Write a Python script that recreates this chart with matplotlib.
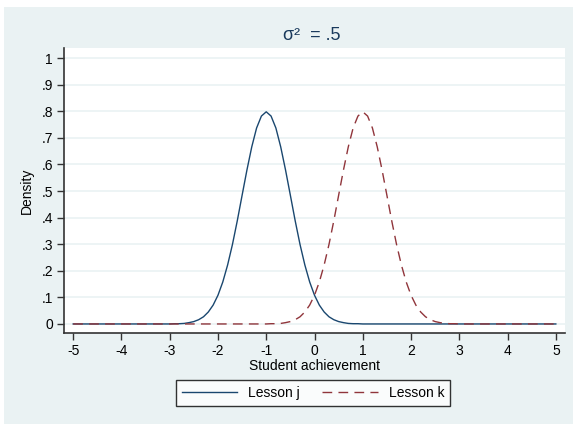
import matplotlib
matplotlib.use("Agg")
import matplotlib.pyplot as plt
from matplotlib.patches import Rectangle

# densities
x_j = [-5.0, -3.0, -2.9, -2.8, -2.7, -2.6, -2.5, -2.4, -2.3, -2.2, -2.1,
       -2.0, -1.9, -1.8, -1.7, -1.6, -1.5, -1.4, -1.3, -1.2, -1.1, -1.0,
       -0.9, -0.8, -0.7, -0.6, -0.5, -0.4, -0.3, -0.2, -0.1, 0.0,
       0.1, 0.2, 0.3, 0.4, 0.5, 0.6, 0.7, 0.8, 0.9, 1.0, 5.0]
x_k = [-5.0, -1.0, -0.9, -0.8, -0.7, -0.6, -0.5, -0.4, -0.3, -0.2, -0.1,
       0.0, 0.1, 0.2, 0.3, 0.4, 0.5, 0.6, 0.7, 0.8, 0.9, 1.0,
       1.1, 1.2, 1.3, 1.4, 1.5, 1.6, 1.7, 1.8, 1.9, 2.0,
       2.1, 2.2, 2.3, 2.4, 2.5, 2.6, 2.7, 2.8, 2.9, 3.0, 5.0]
dens_j = [0, 0, .001, .001, .002, .005, .009, .016, .027, .045, .071,
          .108, .158, .222, .299, .388, .484, .579, .666, .737, .782, .798,
          .782, .737, .666, .579, .484, .388, .299, .222, .158, .108,
          .071, .045, .027, .016, .009, .005, .002, .001, .001, 0, 0]
dens_k = [0, 0, .001, .001, .002, .005, .009, .016, .027, .045, .071,
          .108, .158, .222, .299, .388, .484, .579, .666, .737, .782, .798,
          .782, .737, .666, .579, .484, .388, .299, .222, .158, .108,
          .071, .045, .027, .016, .009, .005, .002, .001, .001, 0, 0]

xticks = [-5, -4, -3, -2, -1, 0, 1, 2, 3, 4, 5]
yticks = [0, .1, .2, .3, .4, .5, .6, .7, .8, .9, 1]
ylabels = ["0", ".1", ".2", ".3", ".4", ".5", ".6", ".7", ".8", ".9", "1"]

plt.rcParams['font.family'] = ['Liberation Sans', 'DejaVu Sans']
plt.rcParams['axes.unicode_minus'] = False
bg = "#eaf2f3"

fig = plt.figure(figsize=(5.73, 4.25), dpi=100)
fig.patch.set_facecolor("white")
fig.patches.append(Rectangle((4 / 573, 1 / 425), 1, 1 - 8 / 425,
                             transform=fig.transFigure, facecolor=bg,
                             edgecolor="none", zorder=-10))

ax = fig.add_axes([64 / 573, 1 - 333 / 425, 501 / 573, 285 / 425])
ax.set_facecolor("white")

ax.plot(x_j, dens_j, color="#1a476f", linewidth=1.0, label="Lesson j")
ax.plot(x_k, dens_k, color="#90353b", linewidth=1.0, dashes=(7, 4.5),
        label="Lesson k")

ax.set_xlim(-5.19, 5.19)
ax.set_ylim(-0.034, 1.038)
ax.set_xticks(xticks)
ax.set_yticks(yticks)
ax.set_yticklabels(ylabels)
ax.yaxis.grid(True, color=bg, linewidth=1.2)
ax.set_axisbelow(True)
for s in ["top", "right"]:
    ax.spines[s].set_visible(False)
for s in ["left", "bottom"]:
    ax.spines[s].set_color("#333333")
    ax.spines[s].set_linewidth(1.2)
ax.tick_params(length=5, width=1, color="#333333", labelsize=10, pad=3)

fig.text(314.5 / 573, 1 - 366 / 425, "Student achievement", ha="center",
         va="center", fontsize=10)
fig.text(27 / 573, 1 - 191 / 425, "Density", ha="center", va="center",
         rotation=90, fontsize=10)
fig.text(312 / 573, 1 - 35 / 425, "σ²  = .5", ha="center",
         va="center", fontsize=13, color="#1a3a5c")

leg = fig.legend(loc="center", bbox_to_anchor=(313 / 573, 1 - 393 / 425),
                 ncol=2, frameon=True, fancybox=False, fontsize=10,
                 handlelength=4.0, columnspacing=1.6, borderpad=0.4)
leg.get_frame().set_edgecolor("black")
leg.get_frame().set_linewidth(1.0)

fig.savefig("out.png", dpi=100, facecolor=fig.get_facecolor())
